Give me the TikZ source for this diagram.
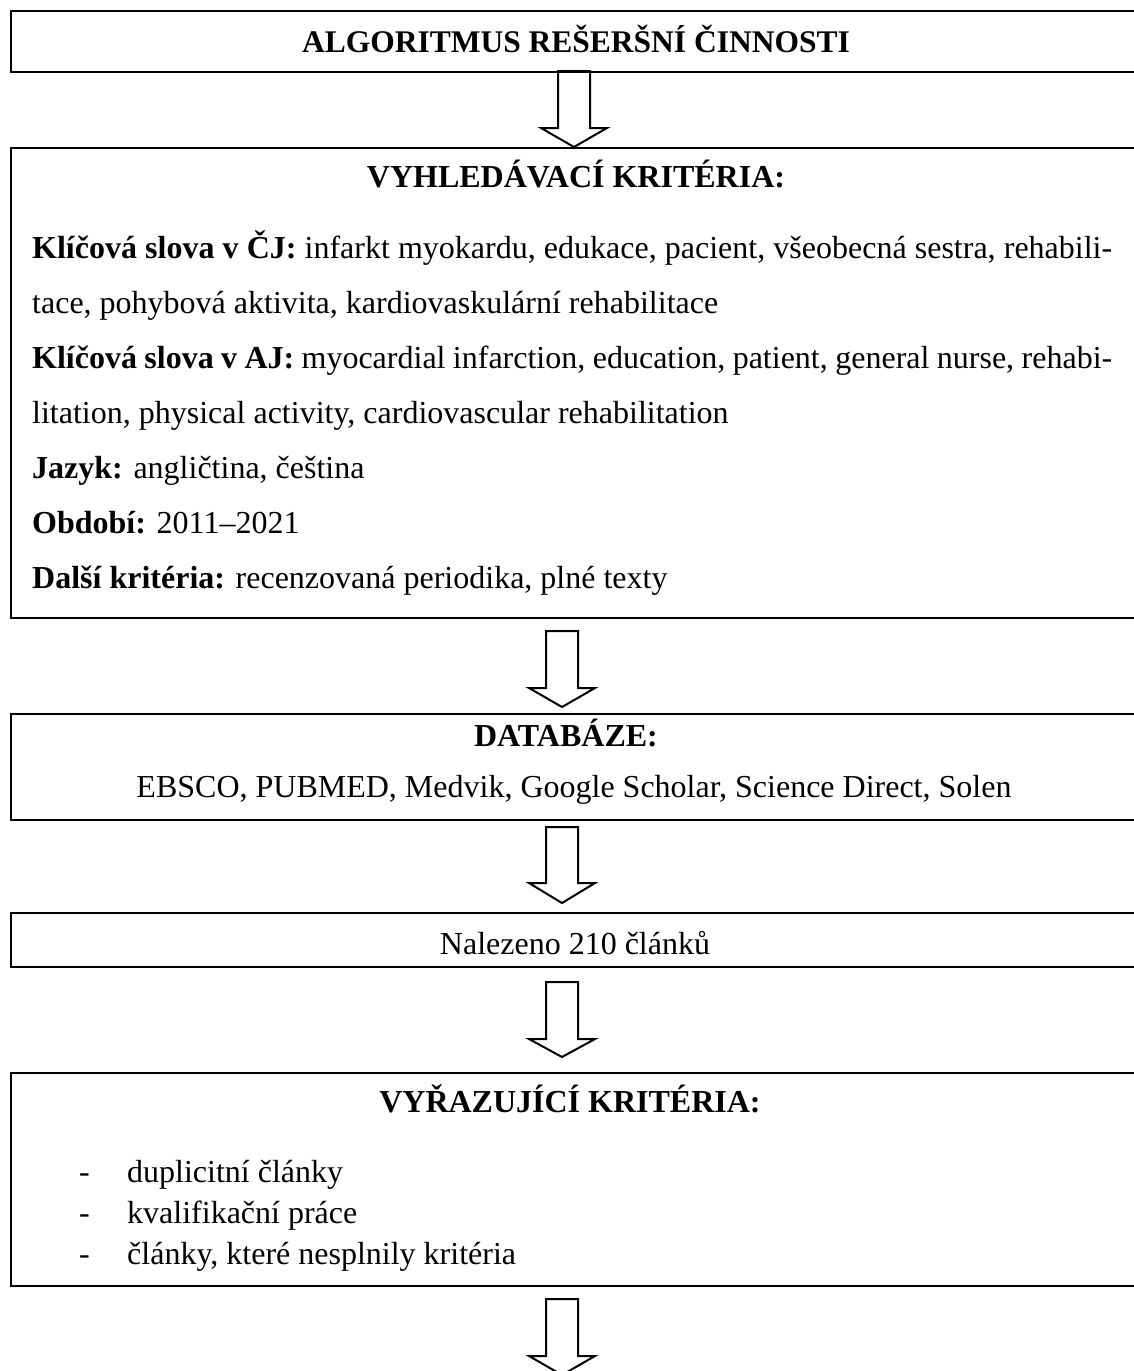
\documentclass[tikz,border=0pt]{standalone}
\usepackage{fontspec}
\setmainfont{Liberation Serif}
\usetikzlibrary{calc}
\tikzset{
  box/.style={draw, line width=2.2pt, anchor=north west, inner sep=0pt, minimum width=1140pt},
  txt/.style={inner sep=0pt, anchor=base, font=\fontsize{32}{38}\selectfont},
  txtl/.style={inner sep=0pt, anchor=base west, font=\fontsize{32}{38}\selectfont},
  arrowline/.style={draw, line width=2pt, line join=miter},
  pics/dnarrow/.style 2 args={code={
    \draw[arrowline] (-16,0) -- (-16,#1) -- (-33,#1) -- (0,#2) -- (33,#1) -- (16,#1) -- (16,0) -- cycle;}}
}
\newcommand{\jline}[1]{\makebox[1080pt][s]{#1}}
\begin{document}
\begin{tikzpicture}[x=1pt,y=-1pt]
\useasboundingbox (0,0) rectangle (1134,1371);
% boxes
\node[box, minimum height=61pt] (b1) at (10,10) {};
\node[box, minimum height=470pt] (b2) at (10,147) {};
\node[box, minimum height=106pt] (b3) at (10,713) {};
\node[box, minimum height=54pt] (b4) at (10,912) {};
\node[box, minimum height=213pt] (b5) at (10,1072) {};
% box 1
\node[txt, font=\fontsize{31.5}{38}\selectfont] (t1) at (576,52) {\bfseries ALGORITMUS REŠERŠNÍ ČINNOSTI};
% box 2
\node[txt] (t2) at (576,187) {\bfseries VYHLEDÁVACÍ KRITÉRIA:};
\node[txtl] (l1) at (32,258) {\jline{\textbf{Klíčová slova v ČJ:} infarkt myokardu, edukace, pacient, všeobecná sestra, rehabili-}};
\node[txtl] (l2) at (32,313) {tace, pohybová aktivita, kardiovaskulární rehabilitace};
\node[txtl] (l3) at (32,368) {\jline{\textbf{Klíčová slova v AJ:} myocardial infarction, education, patient, general nurse, rehabi-}};
\node[txtl] (l4) at (32,423) {litation, physical activity, cardiovascular rehabilitation};
\node[txtl] (l5) at (32,478) {\textbf{Jazyk:} angličtina, čeština};
\node[txtl] (l6) at (32,533) {\textbf{Období:} 2011–2021};
\node[txtl] (l7) at (32,588) {\textbf{Další kritéria:} recenzovaná periodika, plné texty};
% box 3
\node[txt] (t3) at (566,746) {\bfseries DATABÁZE:};
\node[txt] (l8) at (574,797) {EBSCO, PUBMED, Medvik, Google Scholar, Science Direct, Solen};
% box 4
\node[txt] (t4) at (575,954) {Nalezeno 210 článků};
% box 5
\node[txt] (t5) at (570,1112) {\bfseries VYŘAZUJÍCÍ KRITÉRIA:};
\node[txtl] (d1) at (79,1182) {-};
\node[txtl] (i1) at (127,1182) {duplicitní články};
\node[txtl] (d2) at (79,1223) {-};
\node[txtl] (i2) at (127,1223) {kvalifikační práce};
\node[txtl] (d3) at (79,1264) {-};
\node[txtl] (i3) at (127,1264) {články, které nesplnily kritéria};
% arrows
\pic at (574,71) {dnarrow={57}{76}};
\pic at (562,631) {dnarrow={57}{76}};
\pic at (562,827) {dnarrow={56}{76}};
\pic at (562,982) {dnarrow={57}{75}};
\pic at (562,1299) {dnarrow={57}{76}};
\end{tikzpicture}
\end{document}
